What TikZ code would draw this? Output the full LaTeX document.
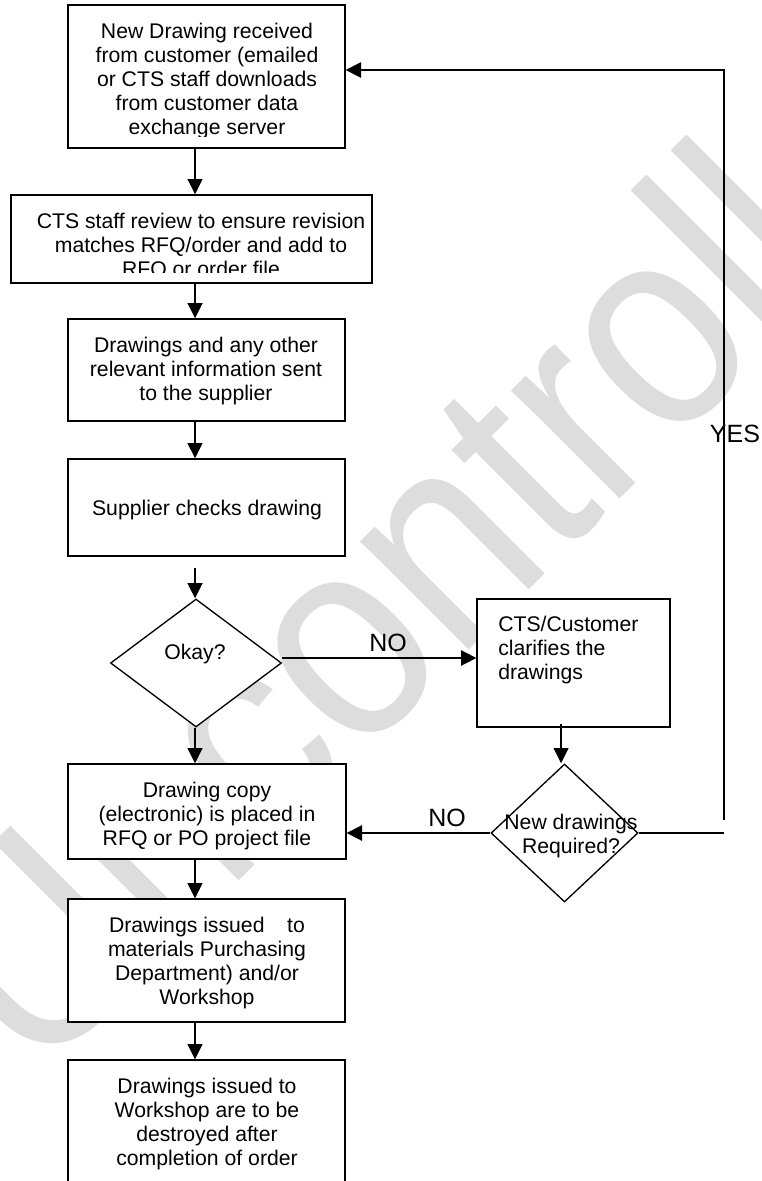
\documentclass[tikz,border=0pt]{standalone}
\usepackage{fontspec}
\setmainfont{Liberation Sans}
\usetikzlibrary{shapes.geometric,arrows.meta}
\definecolor{wmgray}{RGB}{221,221,221}
\newcommand{\mainsize}{\fontsize{15.9}{18}\selectfont}
\newcommand{\labsize}{\fontsize{18.75}{22}\selectfont}
\begin{document}
\begin{tikzpicture}[x=0.75pt,y=-0.75pt,
  box/.style={draw=black, fill=white, line width=1pt, rectangle, inner sep=0pt},
  dia/.style={draw=black, fill=white, line width=1pt, diamond, inner sep=0pt},
  txt/.style={font=\mainsize, align=center, inner sep=0pt},
  lab/.style={font=\labsize, inner sep=0pt},
  arr/.style={line width=1.6pt, -{Triangle[length=11.5pt,width=11pt]}},
  harr/.style={line width=1.3pt, -{Triangle[length=11.5pt,width=11.5pt]}},
  loopline/.style={line width=1.2pt},
  wm/.style={text=wmgray, font=\fontsize{217.5}{217.5}\selectfont, inner sep=0pt}]

\useasboundingbox (0,0) rectangle (761,1181);
\clip (0,0) rectangle (761,1181);

% watermark
\node[wm, anchor=base west, rotate=45, xscale=0.88] (wmark) at (35.6,1083.5) {Uncontrolled};

% boxes
\node[box, minimum width=207.75pt, minimum height=107.25pt] (b1) at (206.5,76.5) {};
\node[box, minimum width=270.75pt, minimum height=66pt] (b2) at (191.5,239) {};
\node[box, minimum width=207.75pt, minimum height=76.5pt] (b3) at (206.5,370) {};
\node[box, minimum width=207.75pt, minimum height=72.75pt] (b4) at (206.5,507.5) {};
\node[dia, minimum width=128.25pt, minimum height=96pt] (d1) at (196,663) {};
\node[box, minimum width=208.5pt, minimum height=71.25pt] (b5) at (207,811.5) {};
\node[box, minimum width=144.75pt, minimum height=96pt] (cts) at (573.5,663) {};
\node[dia, minimum width=110.25pt, minimum height=103.5pt] (d2) at (564.5,833) {};
\node[box, minimum width=207.75pt, minimum height=92.25pt] (b6) at (206.5,960.5) {};
\node[box, minimum width=207.75pt, minimum height=105pt] (b7) at (206.5,1130) {};

% texts
\begin{scope}
\clip (68,5) rectangle (345,136.5);
\node[txt] (t1) at (207,80.9) {New Drawing received\\from customer (emailed\\or CTS staff downloads\\from customer data\\exchange server};
\end{scope}
\begin{scope}
\clip (11,195) rectangle (372,272);
\node[txt] (t2) at (201,246.5) {CTS staff review to ensure revision\\matches RFQ/order and add to\\RFQ or order file};
\end{scope}
\node[txt] (t3) at (206,371.2) {Drawings and any other\\relevant information sent\\to the supplier};
\node[txt] (t4) at (207,510.2) {Supplier checks drawing};
\node[txt] (okay) at (195,654.2) {Okay?};
\node[txt] (t5) at (207,815.7) {Drawing copy\\(electronic) is placed in\\RFQ or PO project file};
\node[txt, align=left, anchor=west] (ctst) at (498,649.7) {CTS/Customer\\clarifies the\\drawings};
\node[txt] (d2t) at (571,835.7) {New drawings\\Required?};
\node[txt] (t6) at (207,962.7) {Drawings issued\hspace{17pt}to\\materials Purchasing\\Department) and/or\\Workshop};
\node[txt] (t7) at (207,1123.7) {Drawings issued to\\Workshop are to be\\destroyed after\\completion of order};

% labels
\node[lab] (no1) at (388,643) {NO};
\node[lab] (no2) at (447,818) {NO};
\node[lab] (yes) at (735,434) {YES};

% connectors
\coordinate (col) at (195,0);
\draw[arr] (b1.south -| col) -- (b2.north -| col);
\draw[arr] (b2.south -| col) -- (b3.north -| col);
\draw[arr] (b3.south -| col) -- (b4.north -| col);
\coordinate (d1in) at (195,568);
\draw[arr] (d1in) -- (d1in |- d1.north);
\draw[arr] (d1.south -| col) -- (b5.north -| col);
\draw[arr] (b5.south -| col) -- (b6.north -| col);
\draw[arr] (b6.south -| col) -- (b7.north -| col);

\draw[harr] ([yshift=3.75pt]d1.east) -- ([yshift=3.75pt]d1.east -| cts.west);
\coordinate (ctsout) at (561,724);
\draw[arr] (ctsout) -- (ctsout |- d2.north);
\draw[harr] (d2.west) -- (d2.west -| b5.east);

\coordinate (lc) at (724,833);
\coordinate (lt) at (724,820);
\coordinate (ltop) at (724,70);
\draw[loopline] (d2.east) -- (lc);
\draw[loopline, -{Triangle[length=11.5pt,width=11.5pt]}] (lt) -- (ltop) -- (ltop -| b1.east);
\end{tikzpicture}
\end{document}
